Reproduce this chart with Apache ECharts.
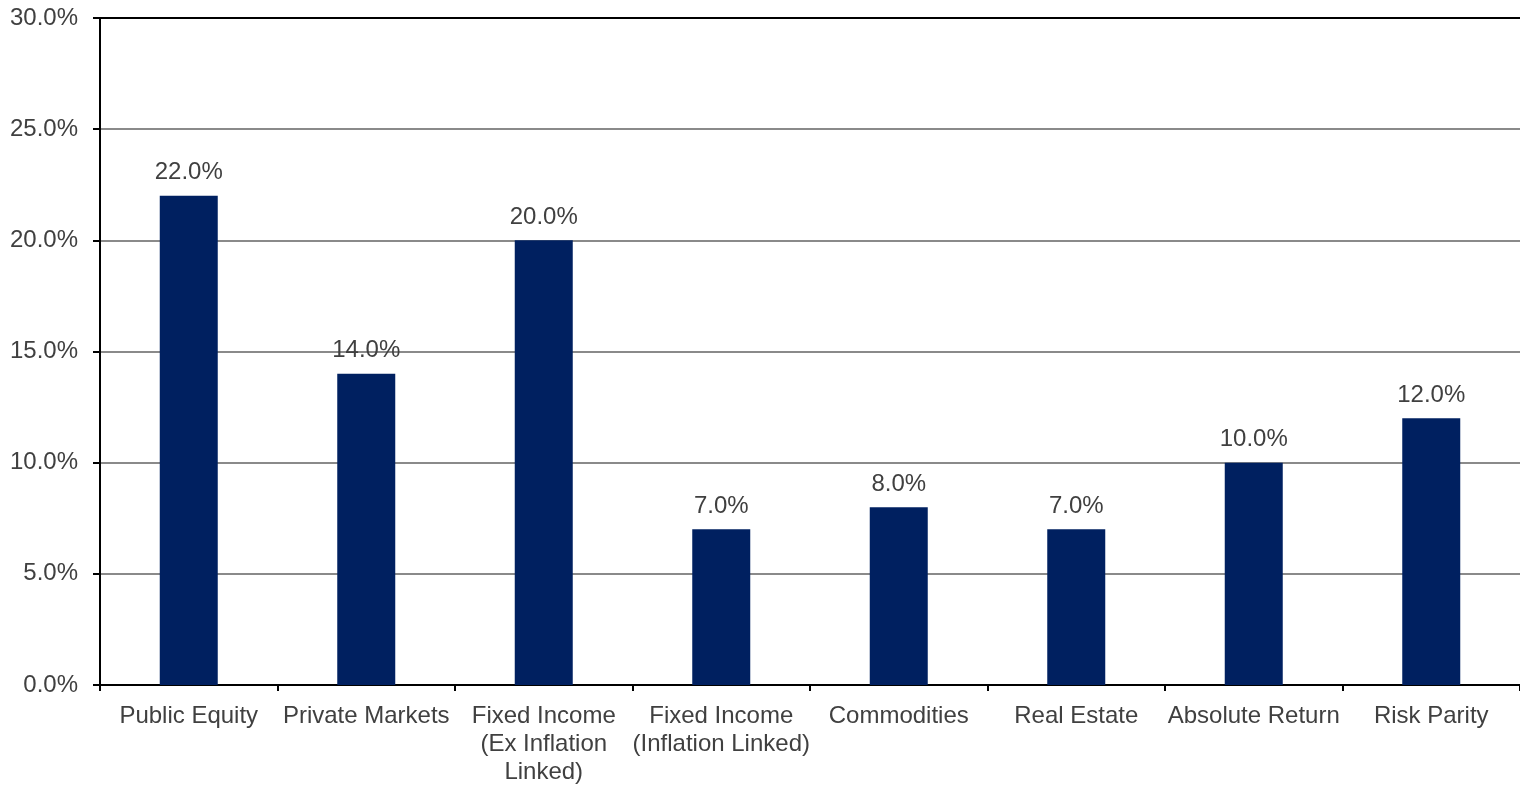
<!DOCTYPE html>
<html>
<head>
<meta charset="utf-8">
<script src="https://cdn.jsdelivr.net/npm/echarts@6/dist/echarts.min.js"></script>
<style>
  html, body { margin: 0; padding: 0; background: #ffffff; }
  #chart { width: 1520px; height: 786px; }
</style>
</head>
<body>
<div id="chart"></div>
<script>
// Asset class allocation targets (percent)
const categories = [
  'Public Equity',
  'Private Markets',
  'Fixed Income\n(Ex Inflation\nLinked)',
  'Fixed Income\n(Inflation Linked)',
  'Commodities',
  'Real Estate',
  'Absolute Return',
  'Risk Parity'
];
const allocation = [22.0, 14.0, 20.0, 7.0, 8.0, 7.0, 10.0, 12.0];
const yTicks = [0, 5, 10, 15, 20, 25, 30];

const FONT = '"Liberation Sans", Arial, sans-serif';
const TEXT = '#404040';

const chart = echarts.init(document.getElementById('chart'), null, { renderer: 'canvas' });
chart.setOption({
  animation: false,
  backgroundColor: '#ffffff',
  grid: { left: 100, right: 0, top: 18, bottom: 97, containLabel: false },
  xAxis: [
    {
      type: 'category',
      data: categories,
      axisLine: { show: true, lineStyle: { color: '#000000', width: 2 } },
      axisTick: { show: true, length: 6, alignWithLabel: false, lineStyle: { color: '#000000', width: 2 } },
      axisLabel: {
        interval: 0,
        margin: 17,
        color: TEXT,
        fontFamily: FONT,
        fontSize: 24,
        lineHeight: 28,
        align: 'center'
      },
      splitLine: { show: false }
    },
    {
      // top border of the plot area
      type: 'category',
      position: 'top',
      data: categories,
      axisLine: { show: true, lineStyle: { color: '#000000', width: 2 } },
      axisTick: { show: false },
      axisLabel: { show: false },
      splitLine: { show: false }
    }
  ],
  yAxis: {
    type: 'value',
    min: yTicks[0],
    max: yTicks[yTicks.length - 1],
    interval: 5,
    axisLine: { show: true, lineStyle: { color: '#000000', width: 2 } },
    axisTick: { show: true, length: 7, lineStyle: { color: '#000000', width: 2 } },
    axisLabel: {
      margin: 22,
      color: TEXT,
      fontFamily: FONT,
      fontSize: 24,
      formatter: v => v.toFixed(1) + '%'
    },
    splitLine: { show: true, lineStyle: { color: '#8a8a8a', width: 2 } }
  },
  series: [
    {
      type: 'bar',
      data: allocation,
      barWidth: 58,
      itemStyle: { color: '#002060' },
      label: {
        show: true,
        position: 'top',
        distance: 11,
        color: TEXT,
        fontFamily: FONT,
        fontSize: 24,
        formatter: p => p.value.toFixed(1) + '%'
      }
    }
  ]
});
</script>
</body>
</html>
